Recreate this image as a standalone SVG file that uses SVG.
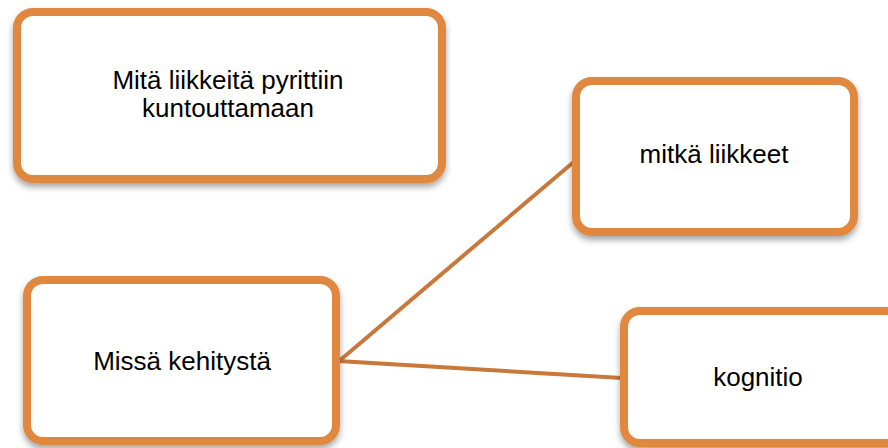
<svg xmlns="http://www.w3.org/2000/svg" width="888" height="448" viewBox="0 0 888 448">
<style>
.box{fill:#fff;stroke:#E0883F;stroke-width:8;filter:url(#sh)}
.t{font-family:"Liberation Sans",Arial,sans-serif;font-size:26px;fill:#000;text-anchor:middle}
.c{stroke:#C8783A;stroke-width:4;fill:none}
</style>
<defs>
<filter id="sh" x="-10%" y="-10%" width="120%" height="130%">
<feDropShadow dx="0" dy="4" stdDeviation="3" flood-color="#000" flood-opacity="0.35"/>
</filter>
</defs>
<rect width="888" height="448" fill="#fff"/>
<g id="connectors">
<line class="c" x1="338" y1="362" x2="576" y2="160"/>
<line class="c" x1="338" y1="361" x2="622" y2="378"/>
</g>
<g id="n1">
<rect class="box" x="17" y="12" width="425" height="167" rx="16"/>
<text class="t" x="228" y="89">Mitä liikkeitä pyrittiin</text>
<text class="t" x="228" y="117">kuntouttamaan</text>
</g>
<g id="n2">
<rect class="box" x="576" y="81" width="278" height="151" rx="16"/>
<text class="t" x="714" y="163">mitkä liikkeet</text>
</g>
<g id="n3">
<rect class="box" x="27" y="280" width="309" height="161" rx="16"/>
<text class="t" x="182" y="370">Missä kehitystä</text>
</g>
<g id="n4">
<rect class="box" x="624" y="311" width="290" height="132" rx="16"/>
<text class="t" x="758" y="386">kognitio</text>
</g>
</svg>
